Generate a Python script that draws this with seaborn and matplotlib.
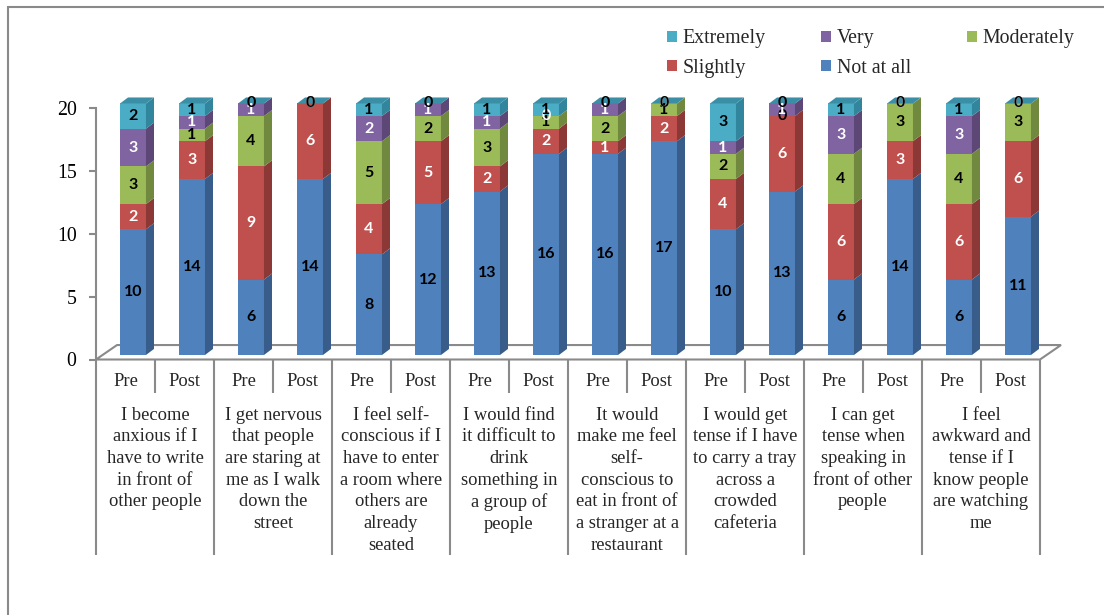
import numpy as np
import pandas as pd
import matplotlib
matplotlib.use("Agg")
import matplotlib.pyplot as plt
import seaborn as sns
from matplotlib.patches import Polygon, Rectangle
from matplotlib.transforms import blended_transform_factory, ScaledTranslation

# ---------------- data ----------------
levels = ["Not at all", "Slightly", "Moderately", "Very", "Extremely"]
phases = ["Pre", "Post"]
questions = [
    "I become\nanxious if I\nhave to write\nin front of\nother people",
    "I get nervous\nthat people\nare staring at\nme as I walk\ndown the\nstreet",
    "I feel self-\nconscious if I\nhave to enter\na room where\nothers are\nalready\nseated",
    "I would find\nit difficult to\ndrink\nsomething in\na group of\npeople",
    "It would\nmake me feel\nself-\nconscious to\neat in front of\na stranger at a\nrestaurant",
    "I would get\ntense if I have\nto carry a tray\nacross a\ncrowded\ncafeteria",
    "I can get\ntense when\nspeaking in\nfront of other\npeople",
    "I feel\nawkward and\ntense if I\nknow people\nare watching\nme",
]
not_at_all = [10, 14, 6, 14, 8, 12, 13, 16, 16, 17, 10, 13, 6, 14, 6, 11]
slightly   = [2, 3, 9, 6, 4, 5, 2, 2, 1, 2, 4, 6, 6, 3, 6, 6]
moderately = [3, 1, 4, 0, 5, 2, 3, 1, 2, 1, 2, 0, 4, 3, 4, 3]
very       = [3, 1, 1, 0, 2, 1, 1, 0, 1, 0, 1, 1, 3, 0, 3, 0]
extremely  = [2, 1, 0, 0, 1, 0, 1, 1, 0, 0, 3, 0, 1, 0, 1, 0]
y_ticks = [0, 5, 10, 15, 20]

# ---------------- style ----------------
front_colors = {"Not at all": "#4F81BD", "Slightly": "#C0504D", "Moderately": "#9BBB59",
                "Very": "#8064A2", "Extremely": "#4BACC6"}
side_colors = {"Not at all": "#385D8A", "Slightly": "#8C3836", "Moderately": "#71893F",
               "Very": "#5C4776", "Extremely": "#31859C"}
top_color = "#3A8FA6"
label_colors = {"Not at all": "black", "Slightly": "white", "Moderately": "black",
                "Very": "white", "Extremely": "black"}
gray = "#8A8A8A"

sns.set_theme(style="white")
plt.rcParams["font.family"] = ["Liberation Serif", "DejaVu Serif"]

W, H = 1104, 615
fig = plt.figure(figsize=(W / 100, H / 100), dpi=100)
ax_left, ax_right, ax_bot, ax_top = 96, 1040, 359.5, 108
ax = fig.add_axes([ax_left / W, 1 - ax_bot / H, (ax_right - ax_left) / W, (ax_bot - ax_top) / H])
lift = ax.transData + ScaledTranslation(0, 4.5 / 100, fig.dpi_scale_trans)

series = {"Not at all": not_at_all, "Slightly": slightly, "Moderately": moderately,
          "Very": very, "Extremely": extremely}
n = len(not_at_all)
bar_ids = [f"{phases[i % 2]} {i // 2 + 1}" for i in range(n)]
vals = np.array([series[l] for l in levels], dtype=float)  # (5, n)
cum = np.cumsum(vals, axis=0)
bottoms = cum - vals

bar_w = 0.44
off = 0.127           # 3D shift of bar fronts relative to category slots
dx, dy = 0.136, 0.48  # depth of side/top faces

# stacked bars via overlapping cumulative bars (tallest first)
for k in range(len(levels) - 1, -1, -1):
    lv = levels[k]
    df = pd.DataFrame({"bar": bar_ids, "cum": cum[k]})
    sns.barplot(data=df, x="bar", y="cum", order=bar_ids, color=front_colors[lv],
                saturation=1, width=bar_w, errorbar=None, linewidth=0, ax=ax, zorder=3)
for p in list(ax.patches):
    p.set_transform(lift)
    p.set_clip_on(False)

# 3D side and top faces
for i in range(n):
    xr = i + bar_w / 2
    for k, lv in enumerate(levels):
        b, t = bottoms[k, i], cum[k, i]
        if t > b:
            ax.add_patch(Polygon([(xr, b), (xr + dx, b + dy), (xr + dx, t + dy), (xr, t)],
                                 closed=True, facecolor=side_colors[lv], edgecolor="none",
                                 zorder=3, clip_on=False, transform=lift))
    top = cum[-1, i]
    ax.add_patch(Polygon([(i - bar_w / 2, top), (xr, top), (xr + dx, top + dy),
                          (i - bar_w / 2 + dx, top + dy)], closed=True, facecolor=top_color,
                         edgecolor="none", zorder=3, clip_on=False, transform=lift))

# data labels
for k, lv in enumerate(levels):
    for i in range(n):
        v = vals[k, i]
        ax.text(i, bottoms[k, i] + v / 2, f"{int(v)}", ha="center", va="center",
                fontsize=11.5, fontweight="bold", family=["Lato", "DejaVu Sans"],
                color=label_colors[lv], zorder=5, transform=lift)

xl, xr_lim = -0.5 - off, n - 0.5 - off
ax.set_xlim(xl, xr_lim)
ax.set_ylim(0, 20)
ax.set_yticks(y_ticks)
ax.set_xticks([])
ax.set_xlabel("")
ax.set_ylabel("")
for s in ["top", "right", "bottom"]:
    ax.spines[s].set_visible(False)
ax.spines["left"].set_color(gray)
ax.spines["left"].set_linewidth(1.5)
ax.tick_params(axis="y", left=True, length=5, width=1.5, color=gray, pad=9,
               labelsize=14.3, labelcolor="black")
ax.patch.set_alpha(0)

# floor
fdx, fdy = 0.356, 1.15
ax.add_patch(Polygon([(xl, 0), (xr_lim, 0), (xr_lim + fdx, fdy), (xl + fdx, fdy)], closed=True,
                     fill=False, edgecolor=gray, linewidth=1.5, zorder=1, clip_on=False))

# category table
trans = blended_transform_factory(ax.transData, fig.transFigure)
slot_c = np.arange(n) - off
for i in range(n):
    ax.text(slot_c[i], 1 - 381 / H, phases[i % 2], transform=trans, ha="center", va="center",
            fontsize=13.3)
for g, q in enumerate(questions):
    ax.text(2 * g + 0.5 - off, 1 - 406.5 / H, q, transform=trans, ha="center", va="top",
            fontsize=13.3, linespacing=1.36)
grp_x = np.arange(0, n + 1, 2) - 0.5 - off
sub_x = np.arange(1, n, 2) - 0.5 - off
ax.vlines(grp_x, 1 - 555 / H, 1 - 359.5 / H, transform=trans, colors=gray, linewidth=1.5,
          clip_on=False)
ax.vlines(sub_x, 1 - 393 / H, 1 - 359.5 / H, transform=trans, colors=gray, linewidth=1.5,
          clip_on=False)
ax.set_xlim(xl, xr_lim)
ax.set_ylim(0, 20)

# legend
order = ["Extremely", "Slightly", "Very", "Not at all", "Moderately"]
handles = [Rectangle((0, 0), 1, 1, facecolor=front_colors[l], edgecolor="none") for l in order]
fig.legend(handles, order, loc="upper left", bbox_to_anchor=(667 / W, 1 - 29.5 / H), ncol=3,
           frameon=False, fontsize=14.3, borderpad=0, borderaxespad=0, handlelength=0.5,
           handleheight=0.5, handletextpad=0.28, columnspacing=2.8, labelspacing=0.51)

# outer frame
fig.add_artist(Rectangle((8 / W, -0.2), 1.5, 1 - 7 / H + 0.2, transform=fig.transFigure,
                         fill=False, edgecolor=gray, linewidth=1.5))

fig.savefig("out.png", dpi=100)
